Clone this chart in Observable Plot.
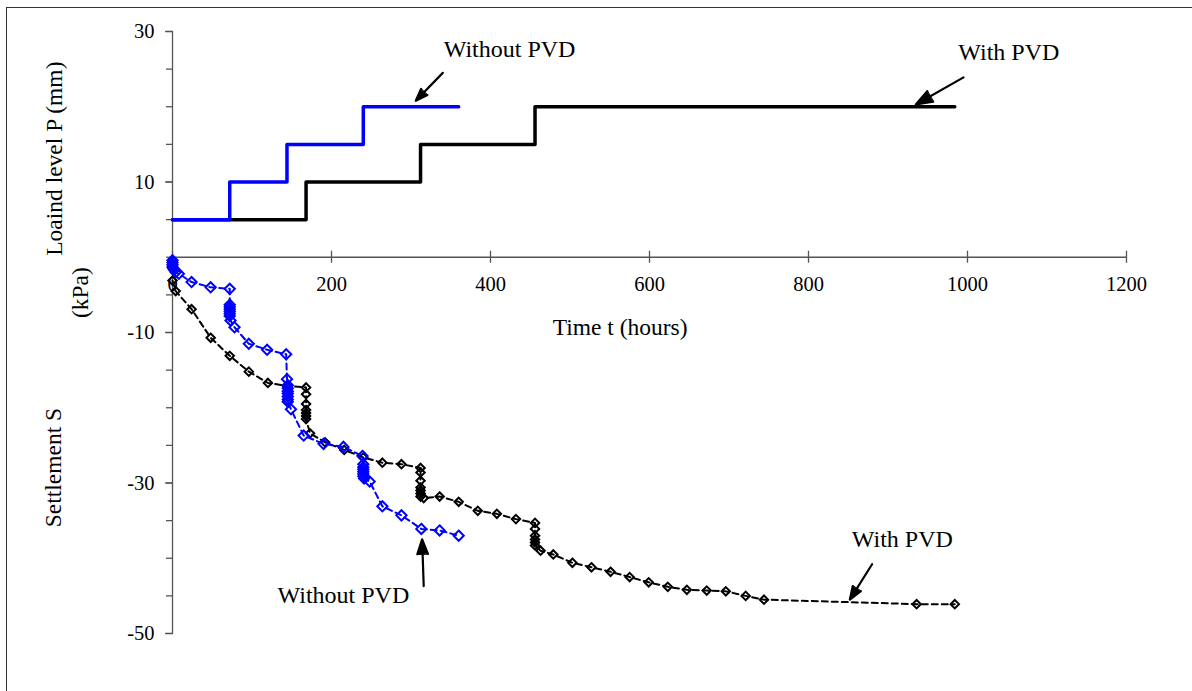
<!DOCTYPE html>
<html><head><meta charset="utf-8">
<script src="https://cdn.jsdelivr.net/npm/d3@7"></script>
<script src="https://cdn.jsdelivr.net/npm/@observablehq/plot@0.6"></script>
<style>
body{margin:0;background:#fff;}
#wrap{position:relative;width:1192px;height:691px;overflow:hidden;background:#fff;}
#frame{position:absolute;left:6px;top:7px;width:1200px;height:700px;border-left:1.5px solid #333;border-top:1.5px solid #333;pointer-events:none;}
#chart{position:absolute;left:0;top:0;}
</style></head><body>
<div id="wrap"><div id="chart"></div><div id="frame"></div></div>
<script>
// ---- Data ----
// Loading steps (kPa)
const loadTimeNoPVD = [0, 72, 144, 240, 360];
const loadNoPVD     = [5, 10, 15, 20, 20];
const loadTimeWithPVD = [0, 168, 312, 456, 984];
const loadWithPVD     = [5, 10, 15, 20, 20];

// Settlement (mm), without PVD
const settleTimeNoPVD = [0,0,0,0,1,2,4, 8, 24, 48, 72, 72,72,72,72,72,72, 73, 78, 96, 119, 143,
  144, 145,145,145,145,145,145,145, 149, 165, 190, 215, 239, 240,240,240,240,240,240,241, 248, 264, 288, 313, 336, 360];
const settleNoPVD = [-0.4,-0.7,-1.0,-1.3,-1.5,-1.7,-2.0, -2.2, -3.3, -4.0, -4.2, -6.3,-6.6,-6.9,-7.2,-7.5,-7.8, -8.4, -9.3, -11.5, -12.3, -12.9,
  -16.2, -17.0,-17.4,-17.8,-18.1,-18.5,-18.9,-19.2, -20.2, -23.7, -24.8, -25.2, -26.4, -27.5,-27.9,-28.2,-28.5,-28.8,-29.1,-29.4, -29.8, -33.1, -34.3, -36.1, -36.3, -37.0];

// Settlement (mm), with PVD
const settleTimeWithPVD = [0, 4, 24, 48, 72, 96, 120, 144, 168, 168, 168, 168, 168, 168, 168, 173, 192, 216, 240, 264, 288,
  312, 312, 312, 312, 312, 312, 312, 316, 336, 360, 384, 408, 432, 456, 456, 456, 456, 456, 456, 463, 479, 503, 527, 551, 575, 599,
  623, 647, 672, 696, 721, 744, 936, 984];
const settleWithPVD = [-3.1, -4.5, -6.9, -10.7, -13.1, -15.2, -16.7, -17.1, -17.3, -18.2, -19.5, -20.3, -20.7, -21.1, -21.5, -23.4, -24.6, -25.6, -26.6, -27.3, -27.5,
  -28.0, -28.6, -29.7, -30.6, -31.0, -31.4, -31.8, -32.0, -31.8, -32.5, -33.7, -34.1, -34.8, -35.3, -36.1, -37.0, -37.5, -37.9, -38.3, -39.0, -39.5, -40.6, -41.2, -41.8, -42.5, -43.2,
  -43.8, -44.2, -44.3, -44.4, -45.0, -45.5, -46.1, -46.1];

// Ticks
const xTicks = [0, 200, 400, 600, 800, 1000, 1200];
const yMajorTicks = [-50, -30, -10, 10, 30];
const yMinorTicks = [-50, -45, -40, -35, -30, -25, -20, -15, -10, -5, 0, 5, 10, 15, 20, 25, 30];

// Annotations (text and arrows, in data units)
const annotLabels = ["Without PVD", "With PVD", "Without PVD", "With PVD"];
const annotTextT  = [424, 1052, 215, 918];
const annotTextS  = [27.6, 27.2, -44.9, -37.5];
const arrowT1 = [340, 995, 316, 880];
const arrowS1 = [24.5, 23.9, -43.7, -40.8];
const arrowT2 = [306, 935, 314, 852];
const arrowS2 = [20.8, 20.3, -37.5, -45.5];

// Axis titles
const axisTitles = ["Loaind level P (mm)", "(kPa)", "Settlement S"];
const axisTitleS = [13.1, -4.7, -27.95];
const axisTitleDx = [-118, -92, -119];
const xTitle = "Time t (hours)";
const xTitleT = 563, xTitleS = -9.33;

// ---- Build tables ----
const loadNo = loadTimeNoPVD.map((t, i) => ({t, p: loadNoPVD[i]}));
const loadWith = loadTimeWithPVD.map((t, i) => ({t, p: loadWithPVD[i]}));
const setNo = settleTimeNoPVD.map((t, i) => ({t, s: settleNoPVD[i]}));
const setWith = settleTimeWithPVD.map((t, i) => ({t, s: settleWithPVD[i]}));
const annots = annotLabels.map((label, i) => ({label, tx: annotTextT[i], ts: annotTextS[i],
  x1: arrowT1[i], y1: arrowS1[i], x2: arrowT2[i], y2: arrowS2[i]}));
const titles = axisTitles.map((label, i) => ({label, s: axisTitleS[i], dx: axisTitleDx[i]}));

const font = "'Liberation Serif', 'Times New Roman', serif";
const axisColor = "#555";
const blue = "#0000ff";

const chart = Plot.plot({
  width: 1192, height: 691,
  marginLeft: 172, marginRight: 66, marginTop: 31, marginBottom: 58,
  style: {fontFamily: font, fontSize: "20px", color: "#000", background: "transparent", overflow: "visible"},
  x: {domain: [0, 1200], axis: null},
  y: {domain: [-50, 30], axis: null},
  marks: [
    Plot.frame({anchor: "left", stroke: axisColor, strokeWidth: 1.3}),
    Plot.ruleY([0], {stroke: axisColor, strokeWidth: 1.3}),
    Plot.ruleX(xTicks, {x: d => d, y1: 0, y2: 0, insetTop: -6, insetBottom: -6, stroke: axisColor, strokeWidth: 1.3}),
    Plot.text(xTicks, {x: d => d, y: 0, dy: 27, text: d => String(d), fontSize: 20.5, fill: "#000"}),
    Plot.axisY(yMinorTicks, {tickSize: 6, tickFormat: () => "", label: null, stroke: axisColor, strokeWidth: 1.3}),
    Plot.axisY(yMajorTicks, {tickSize: 7, tickPadding: 11, tickFormat: d => String(d), label: null, stroke: axisColor, strokeWidth: 1.3, fontSize: 20.5, fill: "#000"}),

    // loading steps
    Plot.line(loadWith, {x: "t", y: "p", curve: "step-after", stroke: "#000", strokeWidth: 3.5}),
    Plot.line(loadNo, {x: "t", y: "p", curve: "step-after", stroke: blue, strokeWidth: 3.5}),

    // settlement
    Plot.line(setWith, {x: "t", y: "s", stroke: "#000", strokeWidth: 2, strokeDasharray: "6,4"}),
    Plot.dot(setWith, {x: "t", y: "s", symbol: "diamond2", r: 3.8, stroke: "#000", strokeWidth: 2, fill: "none"}),
    Plot.line(setNo, {x: "t", y: "s", stroke: blue, strokeWidth: 2, strokeDasharray: "6,4"}),
    Plot.dot(setNo, {x: "t", y: "s", symbol: "diamond2", r: 4.6, stroke: blue, strokeWidth: 2, fill: "none"}),

    // annotations
    Plot.arrow(annots, {x1: "x1", y1: "y1", x2: "x2", y2: "y2", stroke: "#000", strokeWidth: 2.2, headLength: 12, headAngle: 40}),
    Plot.text(annots, {x: "tx", y: "ts", text: "label", fontSize: 24, fill: "#000"}),

    // axis titles
    ...titles.map(d => Plot.text([d], {frameAnchor: "left", y: "s", dx: d.dx, text: "label", rotate: -90, textAnchor: "middle", lineAnchor: "middle", fontSize: 23.5, fill: "#000"})),
    Plot.text([xTitle], {x: () => xTitleT, y: () => xTitleS, text: d => d, fontSize: 23.5, fill: "#000"})
  ]
});
document.getElementById("chart").appendChild(chart);

// turn the open arrow heads into filled triangles
chart.querySelectorAll('g[aria-label="arrow"] path').forEach(p => {
  const n = (p.getAttribute("d").match(/-?\d*\.?\d+(e-?\d+)?/g) || []).map(Number);
  if (n.length >= 10) {
    const tri = document.createElementNS("http://www.w3.org/2000/svg", "path");
    tri.setAttribute("d", `M${n[4]},${n[5]}L${n[2]},${n[3]}L${n[8]},${n[9]}Z`);
    tri.setAttribute("fill", "#000");
    tri.setAttribute("stroke", "#000");
    tri.setAttribute("stroke-width", "1");
    p.parentNode.appendChild(tri);
  }
});
</script>
</body></html>
